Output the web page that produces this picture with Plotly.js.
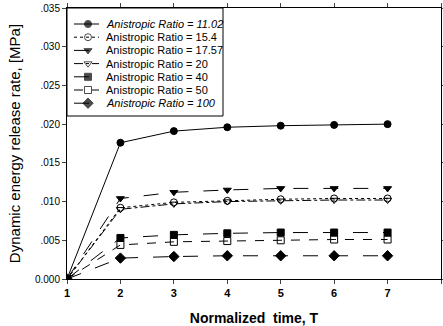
<!DOCTYPE html>
<html>
<head>
<meta charset="utf-8">
<script src="https://cdn.plot.ly/plotly-3.0.1.min.js"></script>
<style>html,body{margin:0;padding:0;background:#fff;}#chart{width:443px;height:326px;}</style>
</head>
<body>
<div id="chart"></div>
<script>
const timeT = [1, 2, 3, 4, 5, 6, 7];
const seriesNames = ["Anistropic Ratio = 11.02", "Anistropic Ratio = 15.4", "Anistropic Ratio = 17.57", "Anistropic Ratio = 20", "Anistropic Ratio = 40", "Anistropic Ratio = 50", "Anistropic Ratio = 100"];
const ratio11 = [0, 0.0176, 0.0191, 0.0196, 0.0198, 0.0199, 0.0200];
const ratio15 = [0, 0.0092, 0.0099, 0.0101, 0.0103, 0.0104, 0.0104];
const ratio17 = [0, 0.0104, 0.0112, 0.0115, 0.0117, 0.0117, 0.0117];
const ratio20 = [0, 0.0090, 0.0097, 0.0100, 0.0101, 0.0102, 0.0102];
const ratio40 = [0, 0.0053, 0.0057, 0.0059, 0.0060, 0.0060, 0.0060];
const ratio50 = [0, 0.0044, 0.0048, 0.0049, 0.0050, 0.0051, 0.0051];
const ratio100 = [0, 0.0027, 0.0029, 0.0030, 0.0030, 0.0030, 0.0030];
const xTickVals = [1, 2, 3, 4, 5, 6, 7, 8];
const yTickVals = [0, 0.005, 0.010, 0.015, 0.020, 0.025, 0.030, 0.035];
const yTickLabels = ["0.000", ".005", ".010", ".015", ".020", ".025", ".030", ".035"];

const styles = [
  {sym: "circle", dash: "solid", italic: true},
  {sym: "circle-open", dash: "dot", italic: false},
  {sym: "triangle-down", dash: "longdash", italic: false},
  {sym: "triangle-down-open", dash: "dashdot", italic: false},
  {sym: "square", dash: "longdash", italic: false},
  {sym: "square-open", dash: "dash", italic: false},
  {sym: "diamond", dash: "longdash", italic: true}
];
const allY = [ratio11, ratio15, ratio17, ratio20, ratio40, ratio50, ratio100];
const msize = s => s.startsWith("diamond") ? 8 : 7;

const traces = allY.map((ys, i) => ({
  x: timeT, y: ys, type: "scatter", mode: "lines+markers", showlegend: false,
  name: seriesNames[i],
  line: {color: "#000", width: 1, dash: styles[i].dash},
  marker: {symbol: styles[i].sym, size: msize(styles[i].sym), color: "#000", line: {color: "#000", width: 1}}
}));

// Custom legend (drawn on an overlay axis measured in pixels inside the plot area)
const PLOT_W = 443 - 67 - 2, PLOT_H = 326 - 8 - 47;
const legRow0 = 16, legRowGap = 13.2, legX0 = 7, legXm = 21, legX1 = 32, legTextX = 37, legW = 156, legH = 108;
const annotations = [];
seriesNames.forEach((nm, i) => {
  const yy = legRow0 + i * legRowGap;
  traces.push({
    x: [legX0, legXm, legX1], y: [yy, yy, yy], xaxis: "x2", yaxis: "y2",
    type: "scatter", mode: "lines+markers", showlegend: false, hoverinfo: "skip",
    line: {color: "#000", width: 1, dash: styles[i].dash},
    marker: {symbol: styles[i].sym, size: [0, msize(styles[i].sym), 0], color: "#000", line: {color: "#000", width: 1}}
  });
  annotations.push({
    xref: "x2", yref: "y2", x: legTextX, y: yy, xanchor: "left", yanchor: "middle", showarrow: false,
    text: styles[i].italic ? "<i>" + nm + "</i>" : nm, font: {size: 11}
  });
});

const layout = {
  width: 443, height: 326,
  margin: {l: 67, r: 2, t: 8, b: 47},
  paper_bgcolor: "#fff", plot_bgcolor: "#fff",
  font: {family: "Liberation Sans, Arial, sans-serif", color: "#000"},
  showlegend: false,
  annotations: annotations,
  shapes: [{type: "rect", xref: "x2", yref: "y2", x0: 0, x1: legW, y0: 0, y1: legH, line: {color: "#000", width: 1}}],
  xaxis: {range: [1, 8], tickvals: xTickVals, ticks: "outside", ticklen: 4, tickwidth: 1,
    showline: true, linecolor: "#000", linewidth: 1, mirror: "ticks", showgrid: false, zeroline: false,
    tickfont: {size: 11, weight: "bold"},
    title: {text: "Normalized  time, T", font: {size: 14, weight: "bold"}, standoff: 14}},
  yaxis: {range: [0, 0.035], tickvals: yTickVals, ticktext: yTickLabels, ticks: "outside", ticklen: 4, tickwidth: 1,
    showline: true, linecolor: "#000", linewidth: 1, mirror: "ticks", showgrid: false, zeroline: false,
    tickfont: {size: 10},
    title: {text: "Dynamic energy release rate, [MPa]", font: {size: 15}, standoff: 10}},
  xaxis2: {overlaying: "x", range: [0, PLOT_W], visible: false, fixedrange: true},
  yaxis2: {overlaying: "y", range: [PLOT_H, 0], visible: false, fixedrange: true}
};
Plotly.newPlot("chart", traces, layout, {displayModeBar: false, staticPlot: true});
</script>
</body>
</html>
